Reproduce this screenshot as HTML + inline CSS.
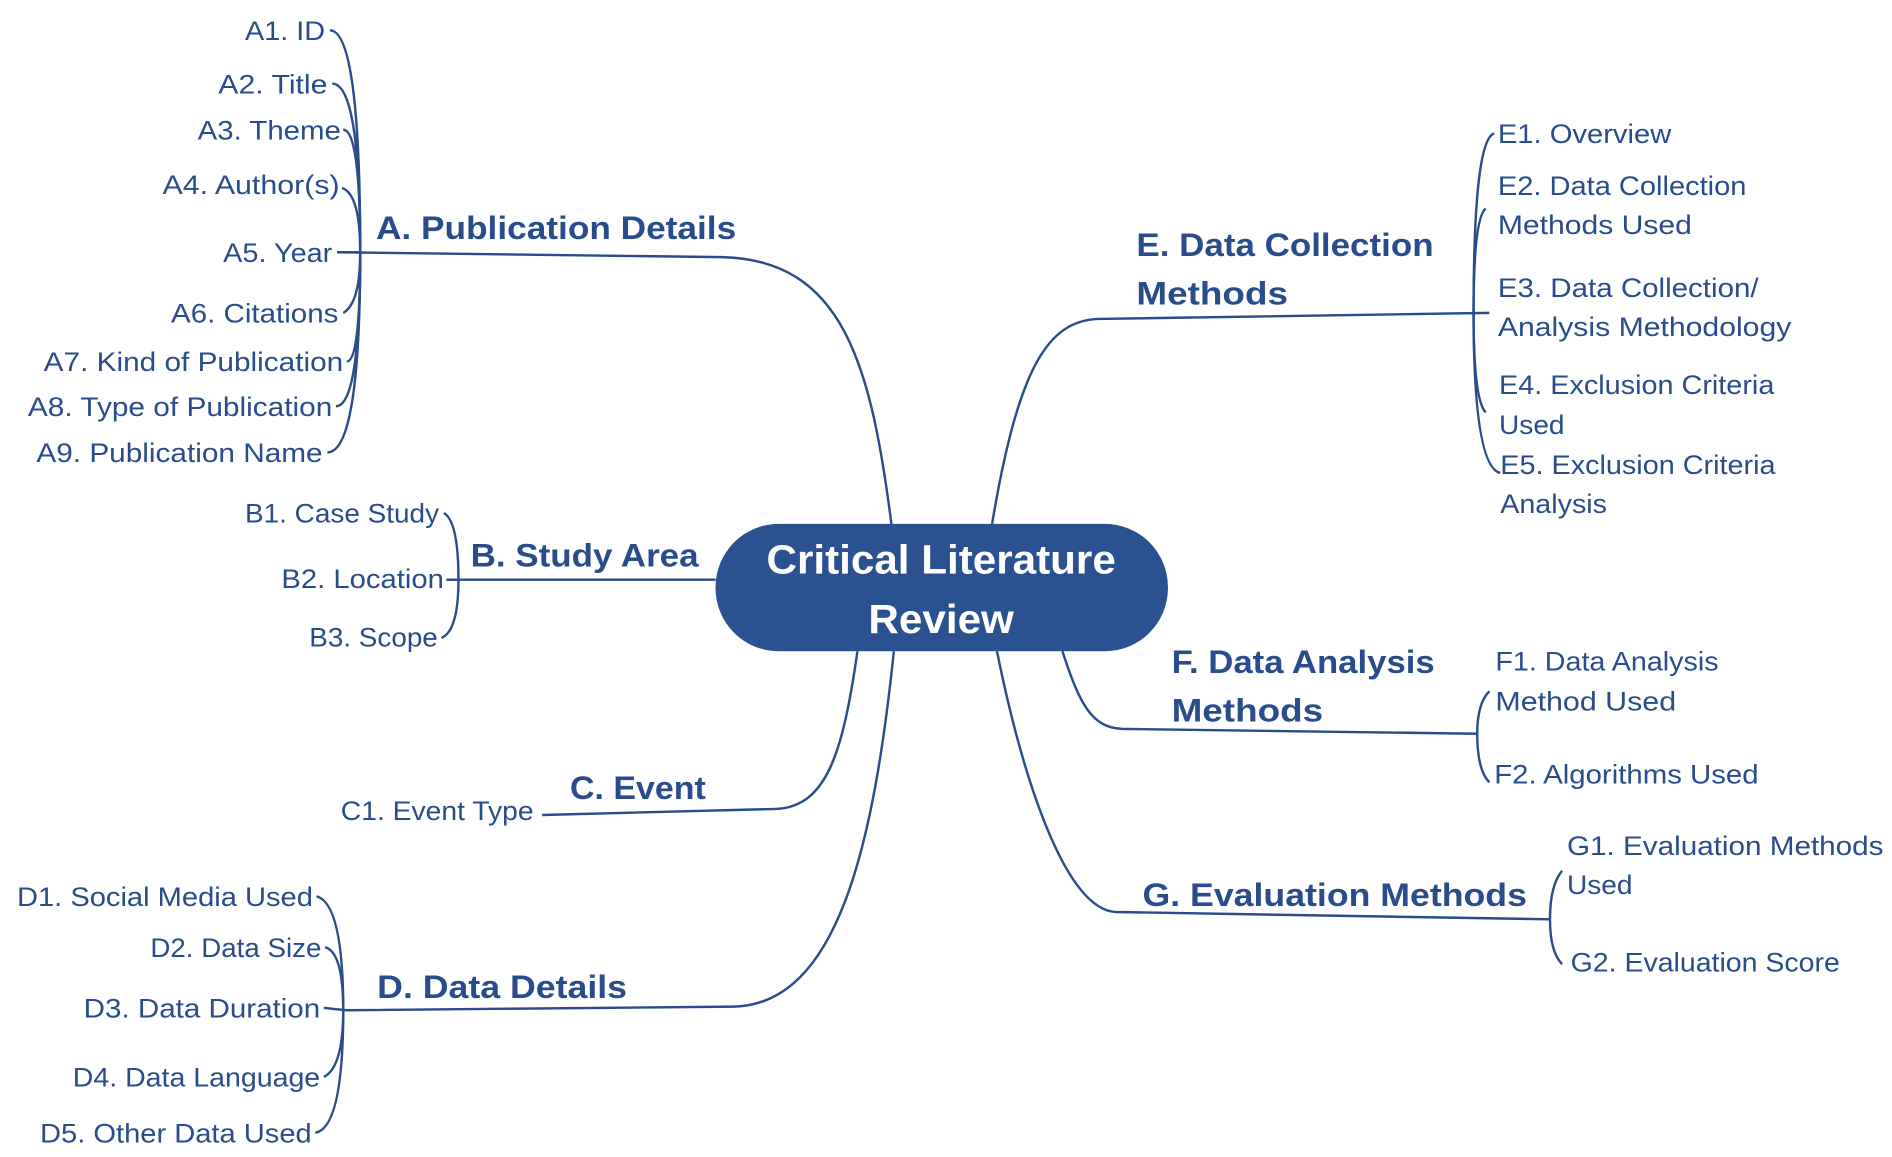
<!DOCTYPE html>
<html><head><meta charset="utf-8"><style>
html,body{margin:0;padding:0;background:#fff;}
svg{display:block}
text{font-family:"Liberation Sans",sans-serif;fill:#2a4c8c}
.s{font-size:22px}
.b{font-size:27px;font-weight:bold}
.c{font-size:34px;font-weight:bold;fill:#fff}
path{fill:none;stroke:#2a4c8c;stroke-width:2}
</style></head><body>
<svg width="1892" height="1157" viewBox="0 0 1560 954" preserveAspectRatio="none" xmlns="http://www.w3.org/2000/svg">
<!-- main branches -->
<path d="M735,432 C718,300 695,214 595,212 L278,208"/>
<path d="M590,478 L368,478"/>
<path d="M707,537 C695,620 682,665 640,667 L447,672"/>
<path d="M737,537 C720,700 690,828 605,830 L285,833"/>
<path d="M818,432 C840,300 865,265 905,263 L1228,258"/>
<path d="M876,537 C890,580 900,600 925,601 L1218,605"/>
<path d="M822,537 C845,650 880,750 920,752 L1278,758"/>
<!-- A connectors -->
<path d="M272,25 Q297,25 297,208"/>
<path d="M274,69 Q297,69 297,208"/>
<path d="M283,107 Q297,107 297,208"/>
<path d="M282,155 Q297,160 297,208"/>
<path d="M297,208 L278,208"/>
<path d="M283,258 Q297,250 297,208"/>
<path d="M286,298 Q297,298 297,208"/>
<path d="M277,335 Q297,335 297,208"/>
<path d="M270,373 Q297,373 297,208"/>
<!-- B -->
<path d="M366,423 Q378,430 378,478"/>
<path d="M369,478 L378,478"/>
<path d="M364,526 Q378,520 378,478"/>
<!-- D -->
<path d="M261,739 Q283,745 283,833"/>
<path d="M268,781 Q283,785 283,833"/>
<path d="M267,831 L285,833"/>
<path d="M267,888 Q283,880 283,833"/>
<path d="M260,934 Q283,930 283,833"/>
<!-- E -->
<path d="M1232,110 Q1215,115 1215,258"/>
<path d="M1225,172 Q1215,180 1215,258"/>
<path d="M1225,340 Q1215,330 1215,258"/>
<path d="M1237,390 Q1215,385 1215,258"/>
<!-- F -->
<path d="M1228,570 Q1218,580 1218,605"/>
<path d="M1228,645 Q1218,635 1218,605"/>
<!-- G -->
<path d="M1288,718 Q1278,730 1278,758"/>
<path d="M1288,795 Q1278,785 1278,758"/>
<!-- center -->
<rect x="590" y="432" width="373" height="105" rx="52" fill="#2b5290"/>
<text class="c" x="776" y="473" text-anchor="middle" textLength="288" lengthAdjust="spacingAndGlyphs">Critical Literature</text>
<text class="c" x="776" y="522" text-anchor="middle" textLength="120" lengthAdjust="spacingAndGlyphs">Review</text>
<!-- branch labels -->
<text class="b" x="310" y="197" textLength="297" lengthAdjust="spacingAndGlyphs">A. Publication Details</text>
<text class="b" x="388" y="467" textLength="188" lengthAdjust="spacingAndGlyphs">B. Study Area</text>
<text class="b" x="470" y="659" textLength="112" lengthAdjust="spacingAndGlyphs">C. Event</text>
<text class="b" x="311" y="823" textLength="206" lengthAdjust="spacingAndGlyphs">D. Data Details</text>
<text class="b" x="937" y="211" textLength="245" lengthAdjust="spacingAndGlyphs">E. Data Collection</text>
<text class="b" x="937" y="251" textLength="125" lengthAdjust="spacingAndGlyphs">Methods</text>
<text class="b" x="966" y="555" textLength="217" lengthAdjust="spacingAndGlyphs">F. Data Analysis</text>
<text class="b" x="966" y="595" textLength="125" lengthAdjust="spacingAndGlyphs">Methods</text>
<text class="b" x="942" y="747" textLength="317" lengthAdjust="spacingAndGlyphs">G. Evaluation Methods</text>
<!-- A items -->
<g class="s" text-anchor="end">
<text class="s" x="268" y="33" textLength="66" lengthAdjust="spacingAndGlyphs">A1. ID</text>
<text class="s" x="270" y="77" textLength="90" lengthAdjust="spacingAndGlyphs">A2. Title</text>
<text class="s" x="281" y="115" textLength="118" lengthAdjust="spacingAndGlyphs">A3. Theme</text>
<text class="s" x="280" y="160" textLength="146" lengthAdjust="spacingAndGlyphs">A4. Author(s)</text>
<text class="s" x="274" y="216" textLength="90" lengthAdjust="spacingAndGlyphs">A5. Year</text>
<text class="s" x="279" y="266" textLength="138" lengthAdjust="spacingAndGlyphs">A6. Citations</text>
<text class="s" x="283" y="306" textLength="247" lengthAdjust="spacingAndGlyphs">A7. Kind of Publication</text>
<text class="s" x="274" y="343" textLength="251" lengthAdjust="spacingAndGlyphs">A8. Type of Publication</text>
<text class="s" x="266" y="381" textLength="236" lengthAdjust="spacingAndGlyphs">A9. Publication Name</text>
<text class="s" x="362" y="431" textLength="160" lengthAdjust="spacingAndGlyphs">B1. Case Study</text>
<text class="s" x="366" y="485" textLength="134" lengthAdjust="spacingAndGlyphs">B2. Location</text>
<text class="s" x="361" y="533" textLength="106" lengthAdjust="spacingAndGlyphs">B3. Scope</text>
<text class="s" x="440" y="676" textLength="159" lengthAdjust="spacingAndGlyphs">C1. Event Type</text>
<text class="s" x="258" y="747" textLength="244" lengthAdjust="spacingAndGlyphs">D1. Social Media Used</text>
<text class="s" x="265" y="789" textLength="141" lengthAdjust="spacingAndGlyphs">D2. Data Size</text>
<text class="s" x="264" y="839" textLength="195" lengthAdjust="spacingAndGlyphs">D3. Data Duration</text>
<text class="s" x="264" y="896" textLength="204" lengthAdjust="spacingAndGlyphs">D4. Data Language</text>
<text class="s" x="257" y="942" textLength="224" lengthAdjust="spacingAndGlyphs">D5. Other Data Used</text>
</g>
<text class="s" x="1235" y="118" textLength="143" lengthAdjust="spacingAndGlyphs">E1. Overview</text>
<text class="s" x="1235" y="161" textLength="205" lengthAdjust="spacingAndGlyphs">E2. Data Collection</text>
<text class="s" x="1235" y="193" textLength="160" lengthAdjust="spacingAndGlyphs">Methods Used</text>
<text class="s" x="1235" y="245" textLength="215" lengthAdjust="spacingAndGlyphs">E3. Data Collection/</text>
<text class="s" x="1235" y="277" textLength="242" lengthAdjust="spacingAndGlyphs">Analysis Methodology</text>
<text class="s" x="1236" y="325" textLength="227" lengthAdjust="spacingAndGlyphs">E4. Exclusion Criteria</text>
<text class="s" x="1236" y="358" textLength="54" lengthAdjust="spacingAndGlyphs">Used</text>
<text class="s" x="1237" y="391" textLength="227" lengthAdjust="spacingAndGlyphs">E5. Exclusion Criteria</text>
<text class="s" x="1237" y="423" textLength="88" lengthAdjust="spacingAndGlyphs">Analysis</text>
<text class="s" x="1233" y="553" textLength="184" lengthAdjust="spacingAndGlyphs">F1. Data Analysis</text>
<text class="s" x="1233" y="586" textLength="149" lengthAdjust="spacingAndGlyphs">Method Used</text>
<text class="s" x="1232" y="646" textLength="218" lengthAdjust="spacingAndGlyphs">F2. Algorithms Used</text>
<text class="s" x="1292" y="705" textLength="261" lengthAdjust="spacingAndGlyphs">G1. Evaluation Methods</text>
<text class="s" x="1292" y="737" textLength="54" lengthAdjust="spacingAndGlyphs">Used</text>
<text class="s" x="1295" y="801" textLength="222" lengthAdjust="spacingAndGlyphs">G2. Evaluation Score</text>
</svg>
</body></html>
